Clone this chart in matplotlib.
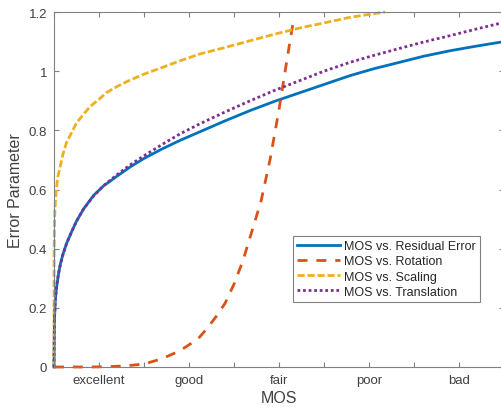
import matplotlib
matplotlib.use("Agg")
import matplotlib.pyplot as plt

# ---- data ----
res_x = [0, 0.005, 0.015, 0.03, 0.05, 0.07, 0.1, 0.14, 0.2, 0.25, 0.33, 0.44, 0.55, 0.7, 0.85,
         1.0, 1.2, 1.4, 1.62, 1.9, 2.18, 2.45, 2.73, 3.0, 3.29, 3.55, 3.84, 4.1, 4.4, 4.7, 5.0]
res_y = [0, 0.16, 0.229, 0.272, 0.315, 0.347, 0.382, 0.418, 0.46, 0.493, 0.535, 0.58, 0.612, 0.645, 0.677,
         0.705, 0.737, 0.766, 0.795, 0.832, 0.867, 0.898, 0.927, 0.955, 0.985, 1.008, 1.03, 1.05, 1.069, 1.085, 1.10]

rot_x = [0, 0.2, 0.4, 0.6, 0.8, 1.0, 1.2, 1.4, 1.6, 1.7, 1.8, 1.9, 2.0, 2.1, 2.2, 2.3, 2.4, 2.5, 2.6, 2.66]
rot_y = [0, 0, 0, 0.001, 0.004, 0.01, 0.028, 0.055, 0.095, 0.13, 0.17, 0.215, 0.28, 0.36, 0.46, 0.56,
         0.70, 0.87, 1.06, 1.17]

sca_x = [0, 0.001, 0.004, 0.01, 0.02, 0.04, 0.067, 0.1, 0.14, 0.2, 0.25, 0.33, 0.4, 0.5, 0.585, 0.7,
         0.81, 1.0, 1.18, 1.4, 1.62, 1.9, 2.18, 2.45, 2.73, 3.0, 3.29, 3.5, 3.68]
sca_y = [0, 0.38, 0.46, 0.53, 0.58, 0.64, 0.675, 0.72, 0.76, 0.795, 0.825, 0.855, 0.88, 0.905, 0.928,
         0.948, 0.965, 0.99, 1.01, 1.035, 1.058, 1.08, 1.103, 1.125, 1.146, 1.163, 1.182, 1.192, 1.20]

tra_x = [0, 0.005, 0.015, 0.03, 0.05, 0.07, 0.1, 0.14, 0.2, 0.25, 0.33, 0.44, 0.55, 0.7, 0.85,
         1.0, 1.2, 1.4, 1.62, 1.9, 2.18, 2.45, 2.73, 3.0, 3.29, 3.55, 3.84, 4.1, 4.4, 4.7, 5.0]
tra_y = [0, 0.16, 0.23, 0.275, 0.315, 0.345, 0.38, 0.418, 0.46, 0.493, 0.535, 0.578, 0.613, 0.65, 0.684,
         0.714, 0.752, 0.788, 0.822, 0.862, 0.90, 0.935, 0.968, 1.0, 1.03, 1.053, 1.077, 1.098, 1.12, 1.143, 1.165]

labels = ["MOS vs. Residual Error", "MOS vs. Rotation", "MOS vs. Scaling", "MOS vs. Translation"]
x_ticks = [0, 0.5, 1, 1.5, 2, 2.5, 3, 3.5, 4, 4.5, 5]
x_ticklabels = ["", "excellent", "", "good", "", "fair", "", "poor", "", "bad", ""]
y_ticks = [0, 0.2, 0.4, 0.6, 0.8, 1.0, 1.2]
y_ticklabels = ["0", "0.2", "0.4", "0.6", "0.8", "1", "1.2"]

plt.rcParams['font.family'] = ['Liberation Sans', 'DejaVu Sans']

fig = plt.figure(figsize=(5.02, 4.10), dpi=100)
ax = fig.add_axes([54/502, 42/410, 450/502, 355/410])

lw = 2.0
ax.plot(res_x, res_y, color='#0072BD', lw=lw, ls='-', label=labels[0], clip_on=False)
ax.plot(rot_x, rot_y, color='#D95319', lw=lw, ls=(0, (3.6, 3.2)), label=labels[1], clip_on=False)
ax.plot(sca_x, sca_y, color='#EDB120', lw=lw, ls=(0, (2.6, 1.0)), label=labels[2], clip_on=False)
ax.plot(tra_x, tra_y, color='#7E2F8E', lw=lw, ls=(0, (1.0, 1.0)), label=labels[3], clip_on=False)

ax.set_xlim(0, 5)
ax.set_ylim(0, 1.2)
ax.set_xticks(x_ticks)
ax.set_xticklabels(x_ticklabels)
ax.set_yticks(y_ticks)
ax.set_yticklabels(y_ticklabels)

spine_col = '#808080'
text_col = '#404040'
for s in ax.spines.values():
    s.set_color(spine_col)
    s.set_linewidth(0.8)
ax.tick_params(direction='in', length=3.5, width=0.8, color=spine_col, labelcolor=text_col,
               labelsize=9.5, top=True, right=True)
ax.tick_params(axis='x', pad=5)
ax.tick_params(axis='y', pad=5)

ax.set_xlabel("MOS", fontsize=11.5, color=text_col, labelpad=3)
ax.set_ylabel("Error Parameter", fontsize=11.5, color=text_col, labelpad=4)

leg = ax.legend(loc='lower left', bbox_to_anchor=(0.531, 0.183), borderaxespad=0,
                fontsize=9, handlelength=3.4, handletextpad=0.3, labelspacing=0.25,
                borderpad=0.35, fancybox=False, framealpha=1, edgecolor='#808080')
leg.get_frame().set_linewidth(0.8)
for t in leg.get_texts():
    t.set_color('#262626')

fig.savefig("out.png", dpi=100)
